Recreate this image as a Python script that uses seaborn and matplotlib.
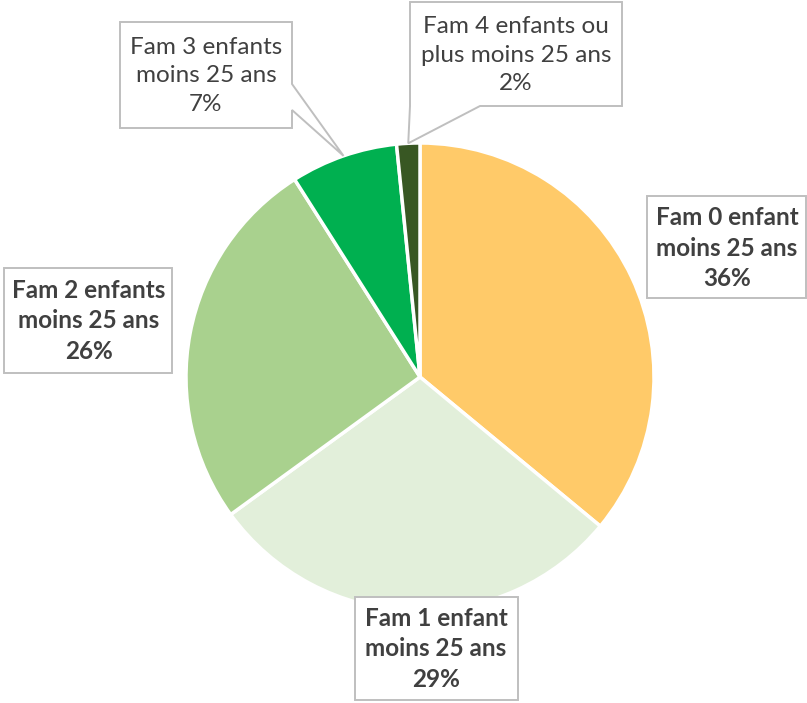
import numpy as np
import seaborn as sns
import matplotlib.pyplot as plt
from matplotlib.patches import Polygon

# data
categories = ["Fam 0 enfant\nmoins 25 ans", "Fam 1 enfant\nmoins 25 ans",
              "Fam 2 enfants\nmoins 25 ans", "Fam 3 enfants\nmoins 25 ans",
              "Fam 4 enfants ou\nplus moins 25 ans"]
shares = [36.0, 29.0, 26.0, 7.4, 1.6]
colors = ["#FFCA69", "#E2EFDA", "#A9D18E", "#00B050", "#385723"]

sns.set_theme(style="white")
plt.rcParams['font.family'] = ['Lato', 'DejaVu Sans']

W, H = 807, 703
fig = plt.figure(figsize=(W / 100, H / 100), dpi=100)
ax = fig.add_axes([0, 0, 1, 1])

cx, cy, r = 420, 377, 234
wedges, _ = ax.pie(shares, colors=colors, startangle=90, counterclock=False,
                   center=(cx, H - cy), radius=r,
                   wedgeprops=dict(edgecolor='white', linewidth=2.5))
ax.set_xlim(0, W)
ax.set_ylim(0, H)
ax.set_aspect('equal')
ax.axis('off')

txt_col = "#404040"
box_col = "#BFBFBF"


def tip_of(w):
    a = np.deg2rad((w.theta1 + w.theta2) / 2)
    return cx + r * np.cos(a), cy - r * np.sin(a)


def outline(pts):
    # screen px (y down) -> axes coords
    p = Polygon([(x, H - y) for x, y in pts], closed=True, facecolor='white',
                edgecolor=box_col, linewidth=1.4, zorder=3)
    ax.add_patch(p)


# bold boxes for the large slices
boxes = {0: (647, 196, 806, 298), 1: (355, 597, 518, 700), 2: (4, 268, 172, 373)}
for i, (x0, y0, x1, y1) in boxes.items():
    outline([(x0, y0), (x1, y0), (x1, y1), (x0, y1)])

# callouts for the small slices
t3 = tip_of(wedges[3])
outline([(120, 22), (292, 22), (292, 84), t3, (292, 110), (292, 128), (120, 128)])
t4 = tip_of(wedges[4])
outline([(410, 2), (622, 2), (622, 106), (480, 106), t4, (410, 106)])

centers = {0: (727, 248), 1: (436, 649), 2: (89, 321), 3: (206, 76), 4: (516, 55)}
for i, (x, y) in centers.items():
    label = f"{categories[i]}\n{round(shares[i])}%"
    ax.text(x, H - y, label, ha='center', va='center', fontsize=17.5,
            fontweight='bold' if i < 3 else 'normal', color=txt_col,
            linespacing=1.42, zorder=4)

fig.savefig("out.png", dpi=100)
